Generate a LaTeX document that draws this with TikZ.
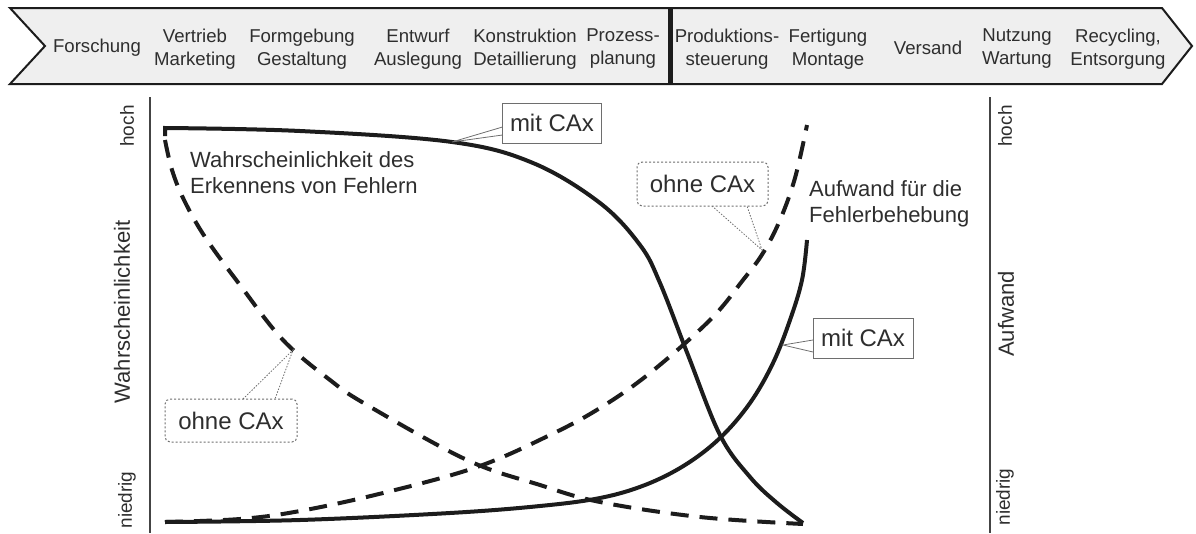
\documentclass[tikz,border=0pt]{standalone}
\usepackage{fontspec}
\setmainfont{Liberation Sans}
\usetikzlibrary{calc}
\definecolor{txt}{HTML}{2E2E2E}
\definecolor{curvecol}{HTML}{1C1C1C}
\definecolor{axcol}{HTML}{444444}
\definecolor{callcol}{HTML}{6E6E6E}
\definecolor{bannerfill}{HTML}{EFEFEF}
\begin{document}
\begin{tikzpicture}
    [x=1pt, y=-1pt,
    phase/.style={align=center, text=txt, font=\fontsize{18.6}{23}\selectfont, inner sep=0pt},
    curve/.style={line width=4pt, draw=curvecol},
    curvedash/.style={curve, dash pattern=on 18pt off 11pt},
    axis/.style={draw=axcol, line width=1.5pt},
    ticklab/.style={rotate=90, text=txt, font=\fontsize{19}{22}\selectfont, inner sep=0pt},
    axlab/.style={rotate=90, text=txt, font=\fontsize{22}{26}\selectfont, inner sep=0pt},
    desc/.style={align=left, text=txt, font=\fontsize{22}{26}\selectfont, inner sep=0pt},
    callmit/.style={draw=callcol, fill=white, line width=1pt, minimum height=40pt, inner sep=0pt, text=txt, font=\fontsize{24}{28}\selectfont},
    callohne/.style={callmit, dash pattern=on 2pt off 2pt, rounded corners=5pt, minimum height=44pt},
    pointer/.style={draw=callcol, line width=0.8pt},
    pointerdot/.style={pointer, dash pattern=on 1.5pt off 1.5pt}]
    \useasboundingbox (0,0) rectangle (1196,533);
    % \draw[help lines, step=50] (0,0) grid (1196,533);
    % banner with the phases
    \draw[draw=curvecol, fill=bannerfill, line width=2pt] (10,8) -- (1162,8) -- (1192,46) -- (1162,84) -- (10,84) -- (45,46) -- cycle;
    \draw[draw=curvecol, line width=5pt] (670,8) -- (670,84);
    \node[phase] (forsch) at (97, 48)   {Forschung};
    \node[phase] (vertr)  at (195, 49)  {Vertrieb\\Marketing};
    \node[phase] (formg)  at (302, 49)  {Formgebung\\Gestaltung};
    \node[phase] (entw)   at (418, 49)  {Entwurf\\Auslegung};
    \node[phase] (konst)  at (525, 49)  {Konstruktion\\Detaillierung};
    \node[phase] (proz)   at (623, 49)  {Prozess-\\planung};
    \node[phase] (prod)   at (727, 49)  {Produktions-\\steuerung};
    \node[phase] (fert)   at (828, 49)  {Fertigung\\Montage};
    \node[phase] (vers)   at (928, 48)  {Versand};
    \node[phase] (nutz)   at (1017, 49) {Nutzung\\Wartung};
    \node[phase] (recy)   at (1118, 49) {Recycling,\\Entsorgung};
    %
    % axes
    \draw[axis] (150,97) -- (150,533);
    \draw[axis] (990,97) -- (990,533);
    \node[ticklab] (hochL)   at (127,126) {hoch};
    \node[axlab]   (wahr)    at (122,312) {Wahrscheinlichkeit};
    \node[ticklab] (niedL)   at (127,500) {niedrig};
    \node[ticklab] (hochR)   at (1005,126) {hoch};
    \node[axlab]   (aufw)    at (1006,314) {Aufwand};
    \node[ticklab] (niedR)   at (1005,497) {niedrig};
    %
    % curves
    \draw[curve] (165,136) -- (165,128) -- plot[smooth, tension=0.6] coordinates {(165,128) (300,131) (452,142) (533,163) (600,203) (640,245) (660,283) (688,355) (720,435) (750,477) (777,503) (803,523)};
    \draw[curvedash] plot[smooth, tension=0.6] coordinates {(165,140) (172,170) (184,200) (205,237) (240,285) (283,340) (330,380) (367,405) (467,460) (540,485) (600,502) (700,517) (803,524)};
    \draw[curve] plot[smooth, tension=0.6] coordinates {(165,522) (300,520) (450,513) (540,506) (600,498) (645,485) (685,465) (720,438) (750,403) (773,363) (790,320) (802,280) (807,240)};
    \draw[curvedash] plot[smooth, tension=0.6] coordinates {(165,522) (240,519) (300,511) (383,493) (477,467) (550,435) (600,408) (650,373) (710,320) (743,280) (763,253) (780,220) (795,178) (807,125)};
    %
    \coordinate (tipmit1) at (452,142);
    \coordinate (tipmit2) at (783,345);
    \coordinate (tipohne1) at (762,250);
    \coordinate (tipohne2) at (293,350);
    %
    \node[desc, anchor=west] (wdesc) at (190,173) {Wahrscheinlichkeit des\\Erkennens von Fehlern};
    \node[desc, anchor=west] (adesc) at (809,204) {Aufwand für die\\Fehlerbehebung};
    %
    % callouts
    \draw[pointer] ($(552,123)+(-49.5,4)$) -- (tipmit1) -- ($(552,123)+(-49.5,12)$);
    \node[callmit, minimum width=99pt] (mit1) at (552,123) {mit CAx};
    \draw[pointer] ($(863,338)+(-50,2)$) -- (tipmit2) -- ($(863,338)+(-50,14)$);
    \node[callmit, minimum width=100pt] (mit2) at (863,338) {mit CAx};
    \draw[pointerdot] ($(702.5,184)+(9.5,22)$) -- (tipohne1) -- ($(702.5,184)+(44.5,22)$);
    \node[callohne, minimum width=131pt] (ohne1) at (702.5,184) {ohne CAx};
    \draw[pointerdot] ($(231,420.5)+(12,-21.5)$) -- (tipohne2) -- ($(231,420.5)+(44,-21.5)$);
    \node[callohne, minimum width=132pt, minimum height=43pt] (ohne2) at (231,420.5) {ohne CAx};
\end{tikzpicture}
\end{document}
